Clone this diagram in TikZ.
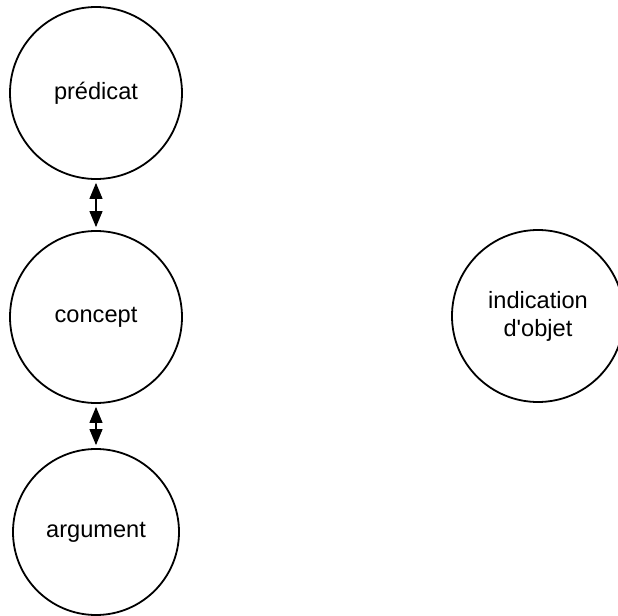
\documentclass[tikz,border=0pt]{standalone}
\usepackage{fontspec}
\setmainfont{Liberation Sans}
\usetikzlibrary{arrows.meta}
\tikzset{
  bulle/.style={draw, circle, line width=0.9pt, minimum size=86pt, inner sep=0pt, align=center, font=\fontsize{11.8}{14}\selectfont},
  lien/.style={{Triangle[length=8pt,width=6.5pt]}-{Triangle[length=8pt,width=6.5pt]}, line width=0.6pt, shorten >=1.5pt, shorten <=1.5pt}
}
\begin{document}
\begin{tikzpicture}[x=0.5pt,y=-0.5pt]
			\useasboundingbox (0,0) rectangle (618,616);
			\clip (0,0) rectangle (618,616);
			\node[bulle] (predicat) at (96,93) {prédicat};
			\node[bulle] (concept) at (96,317) {concept};
			\node[bulle, minimum size=83pt] (argument) at (96,532) {argument};
			\node[bulle] (indication) at (538,316) {indication\\d\textquotesingle objet};
			\draw[lien] (predicat.south) -- (concept.north);
			\draw[lien] (concept.south) -- (argument.north);
		\end{tikzpicture}
\end{document}
